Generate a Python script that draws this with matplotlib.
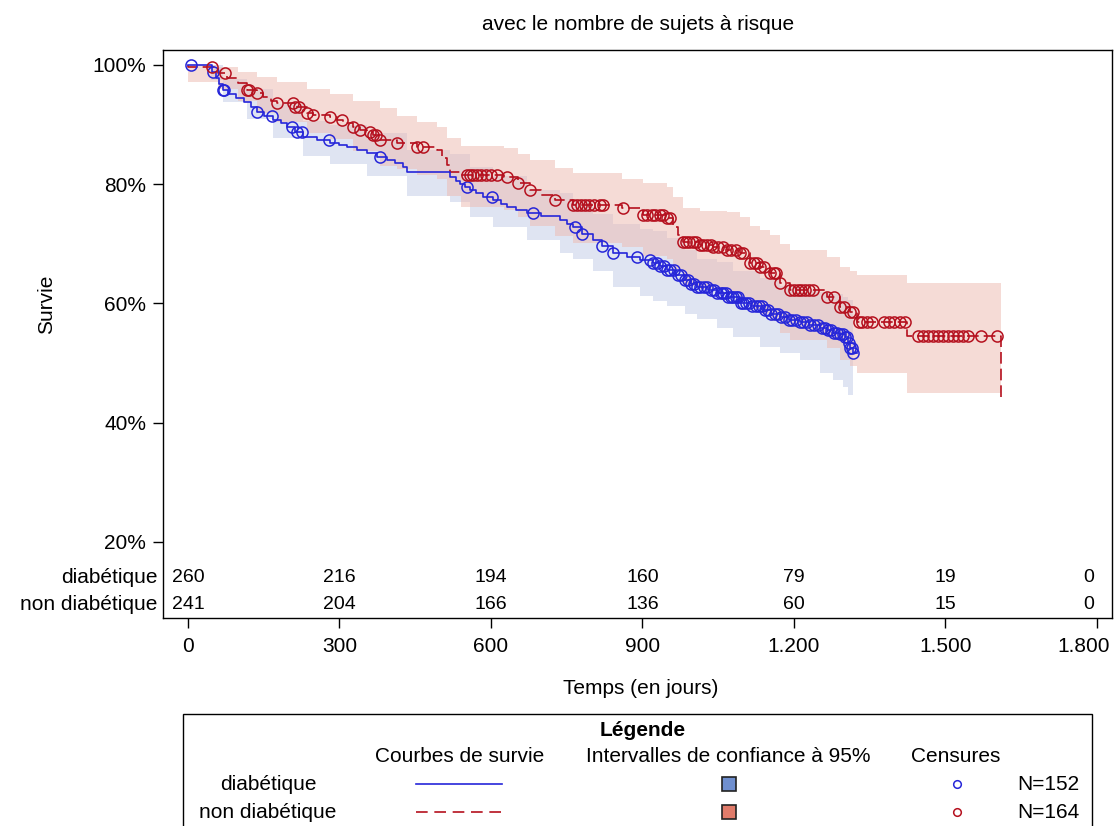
import numpy as np
import matplotlib
matplotlib.use('Agg')
import matplotlib.pyplot as plt
from matplotlib.patches import Rectangle
from matplotlib.lines import Line2D
from matplotlib.transforms import blended_transform_factory, ScaledTranslation

plt.rcParams['font.family'] = ['Liberation Sans', 'DejaVu Sans']

# ---- diabétique : survie (jours, %) ----
diab_t = [0, 48, 55, 62, 69, 80, 95, 110, 125, 137,
          150, 168, 185, 196, 212, 228, 255, 281, 300, 315,
          335, 354, 375, 394, 410, 426, 434, 519, 530, 539,
          548, 558, 570, 584, 604, 620, 632, 650, 671, 700,
          737, 750, 762, 780, 802, 820, 842, 870, 895, 921,
          935, 949, 965, 984, 996, 1008, 1030, 1048, 1070, 1093,
          1115, 1139, 1155, 1172, 1190, 1212, 1230, 1251, 1265, 1277,
          1290, 1301, 1307, 1312, 1318]
diab_s = [100, 98.8, 97.8, 96.8, 95.8, 95.2, 94.5, 93.8, 93.0, 92.1,
          91.5, 90.8, 90.2, 89.6, 88.8, 87.9, 87.4, 86.9, 86.5, 86.2,
          85.7, 85.2, 84.6, 84.1, 83.5, 82.9, 82.0, 81.2, 80.6, 80.0,
          79.5, 79.0, 78.5, 77.9, 77.4, 76.7, 76.2, 75.6, 75.2, 74.6,
          74.0, 73.3, 72.8, 71.7, 70.6, 69.6, 68.5, 67.8, 67.3, 66.8,
          66.2, 65.6, 64.8, 63.9, 63.3, 62.8, 62.3, 61.8, 61.0, 60.1,
          59.5, 58.9, 58.3, 57.7, 57.3, 56.9, 56.4, 55.9, 55.5, 55.1,
          54.8, 54.4, 53.4, 52.5, 51.7]
diab_end = 1325

# IC 95% diabétique
diab_band_t = [45, 69, 117, 168, 228, 281, 354, 434, 519, 558,
               604, 671, 737, 762, 802, 842, 895, 921, 949, 984,
               1008, 1048, 1079, 1133, 1172, 1212, 1251, 1277, 1297, 1307, 1318]
diab_band_lo = [97.5, 93.8, 91.0, 87.8, 84.8, 83.3, 81.4, 78.0, 77.0, 74.5,
                72.8, 70.6, 68.5, 67.4, 65.5, 62.8, 61.2, 60.4, 59.5, 58.3,
                57.4, 55.8, 54.4, 52.7, 51.7, 50.5, 48.3, 47.2, 46.0, 44.7, 44.7]
diab_band_hi = [100, 97.6, 96.0, 93.5, 90.6, 90.0, 88.6, 85.7, 85.0, 82.9,
                81.3, 79.1, 78.6, 77.4, 75.0, 73.3, 72.5, 72.2, 71.0, 68.9,
                67.4, 66.9, 65.5, 64.3, 62.9, 62.3, 62.0, 61.5, 61.0, 60.5, 60.5]

diab_cens = [5, 50, 69, 72, 137, 166, 206, 216, 226, 279,
             380, 552, 602, 683, 766, 780, 820, 842, 889, 915,
             921, 928, 935, 942, 949, 955, 962, 970, 977, 984,
             990, 996, 1002, 1008, 1015, 1022, 1028, 1035, 1042, 1048,
             1055, 1060, 1065, 1070, 1075, 1080, 1085, 1090, 1095, 1100,
             1106, 1112, 1118, 1124, 1130, 1136, 1142, 1148, 1155, 1162,
             1168, 1175, 1182, 1190, 1197, 1205, 1212, 1218, 1225, 1232,
             1240, 1248, 1256, 1262, 1268, 1274, 1280, 1286, 1292, 1298,
             1302, 1306, 1309, 1312, 1315, 1318]

# ---- non diabétique ----
nd_t = [0, 1, 59, 77, 99, 117, 137, 149, 165, 176,
        212, 236, 248, 281, 295, 307, 327, 341, 355, 366,
        380, 414, 453, 493, 503, 513, 519, 540, 625, 653,
        677, 700, 727, 762, 859, 901, 949, 960, 970, 980,
        1014, 1040, 1067, 1093, 1113, 1133, 1152, 1172, 1192, 1265,
        1291, 1311, 1325, 1424, 1610]
nd_s = [100, 99.6, 98.6, 97.8, 97.0, 95.8, 95.3, 94.6, 94.0, 93.6,
        93.0, 92.0, 91.6, 91.3, 90.8, 90.3, 89.6, 89.1, 88.7, 88.3,
        87.4, 86.9, 86.2, 85.7, 84.4, 83.2, 82.0, 81.5, 81.2, 80.2,
        79.0, 78.2, 77.4, 76.5, 76.0, 74.8, 74.3, 72.8, 71.5, 70.3,
        69.8, 69.4, 69.0, 68.5, 66.8, 66.1, 65.1, 63.4, 62.3, 61.1,
        59.4, 58.6, 56.9, 54.6, 43.8]

nd_band_t = [0, 59, 99, 137, 176, 236, 281, 327, 380, 414,
             453, 493, 513, 540, 625, 653, 677, 727, 762, 859,
             901, 949, 960, 980, 1014, 1067, 1093, 1113, 1133, 1152,
             1172, 1192, 1265, 1291, 1311, 1325, 1424, 1610]
nd_band_lo = [97.2, 96.0, 94.0, 92.0, 90.5, 88.5, 87.5, 85.5, 83.0, 82.5,
              81.5, 80.8, 78.0, 76.2, 75.7, 74.5, 73.0, 71.3, 70.2, 69.5,
              68.0, 67.5, 65.8, 63.0, 62.5, 61.5, 61.0, 59.0, 58.2, 57.0,
              55.0, 53.8, 52.5, 50.5, 49.5, 48.3, 45.0, 45.0]
nd_band_hi = [100, 99.6, 98.8, 98.0, 97.2, 96.0, 95.2, 94.0, 92.8, 91.5,
              90.5, 89.6, 87.8, 86.4, 86.1, 85.0, 84.1, 82.7, 81.9, 80.8,
              80.2, 79.5, 77.9, 76.0, 75.5, 75.3, 74.5, 73.0, 72.3, 71.5,
              70.0, 69.0, 67.8, 66.1, 65.5, 64.8, 63.4, 63.4]

nd_cens = [48, 73, 117, 121, 137, 176, 208, 212, 220, 236,
           248, 281, 305, 327, 341, 360, 366, 372, 380, 414,
           453, 465, 552, 558, 565, 572, 580, 590, 600, 612,
           632, 653, 677, 727, 762, 770, 778, 787, 795, 805,
           815, 822, 861, 901, 910, 918, 925, 935, 940, 949,
           955, 980, 986, 992, 1000, 1007, 1014, 1020, 1027, 1035,
           1040, 1050, 1060, 1067, 1075, 1085, 1093, 1100, 1113, 1120,
           1126, 1133, 1140, 1152, 1160, 1165, 1172, 1192, 1200, 1208,
           1215, 1222, 1230, 1238, 1265, 1280, 1291, 1300, 1311, 1318,
           1328, 1335, 1345, 1355, 1378, 1388, 1398, 1410, 1420, 1445,
           1455, 1465, 1475, 1485, 1495, 1505, 1515, 1525, 1535, 1545,
           1570, 1603]

risk_times = [0, 300, 600, 900, 1200, 1500, 1800]
risk_diab = [260, 216, 194, 160, 79, 19, 0]
risk_nd = [241, 204, 166, 136, 60, 15, 0]
xtick_labels = ['0', '300', '600', '900', '1.200', '1.500', '1.800']

blue = '#2626d9'
red = '#b5101e'
FS = 15


def step_value(times, surv, t):
    i = np.searchsorted(times, t, side='right') - 1
    return np.array(surv)[i]


W, H = 1120, 826
fig = plt.figure(figsize=(W / 100, H / 100), dpi=100)
ax = fig.add_axes([163 / W, 1 - 618 / H, (1112 - 163) / W, (618 - 50) / H])

# confidence bands
ax.fill_between(diab_band_t, diab_band_lo, diab_band_hi, step='post',
                facecolor='#dfe4f2', edgecolor='none', zorder=1)
ax.fill_between(nd_band_t, nd_band_lo, nd_band_hi, step='post',
                facecolor='#edb9af', alpha=0.5, edgecolor='none', zorder=2)

# survival curves
ax.step(diab_t + [diab_end], diab_s + [diab_s[-1]], where='post',
        color=blue, lw=1.2, zorder=4)
ax.step(nd_t, nd_s, where='post', color=red, lw=1.2,
        dashes=(7, 3), zorder=3)

# censored
ax.plot(diab_cens, step_value(diab_t, diab_s, diab_cens), 'o', ms=8,
        mfc='none', mec=blue, mew=1.1, zorder=5)
ax.plot(nd_cens, step_value(nd_t, nd_s, nd_cens), 'o', ms=8,
        mfc='none', mec=red, mew=1.1, zorder=5)

ax.set_xlim(-49.5, 1830)
ax.set_ylim(7.25, 102.5)
ax.set_xticks(risk_times)
ax.set_xticklabels(xtick_labels)
ax.set_yticks([20, 40, 60, 80, 100])
ax.set_yticklabels(['20%', '40%', '60%', '80%', '100%'])
ax.tick_params(axis='x', direction='out', length=7, width=1, pad=7, labelsize=FS)
ax.tick_params(axis='y', direction='out', length=7, width=1, pad=5, labelsize=FS)
# last tick label pulled left so it stays inside the picture
last_lab = ax.get_xticklabels()[-1]
last_lab.set_transform(last_lab.get_transform() + ScaledTranslation(-0.13, 0, fig.dpi_scale_trans))
for sp in ax.spines.values():
    sp.set_linewidth(1)
ax.set_xlabel('Temps (en jours)', fontsize=FS)
ax.xaxis.set_label_coords(0.503, -0.108)
ax.set_ylabel('Survie', fontsize=FS)
ax.yaxis.set_label_coords(-0.113, 0.553)
fig.text(638 / W, 1 - 24 / H, 'avec le nombre de sujets à risque',
         ha='center', va='center', fontsize=FS)

# risk table
tr = blended_transform_factory(ax.transData, ax.transAxes)
for i, t in enumerate(risk_times):
    last = i == len(risk_times) - 1
    ha = 'right' if last else 'center'
    x = t - 5 if last else t
    ax.text(x, 0.072, str(risk_diab[i]), transform=tr, ha=ha, va='center', fontsize=14)
    ax.text(x, 0.0246, str(risk_nd[i]), transform=tr, ha=ha, va='center', fontsize=14)
ax.text(-0.006, 0.072, 'diabétique', transform=ax.transAxes, ha='right', va='center', fontsize=FS)
ax.text(-0.006, 0.0246, 'non diabétique', transform=ax.transAxes, ha='right', va='center', fontsize=FS)


# legend (drawn by hand, figure pixel coordinates)
def fx(px):
    return px / W


def fy(py):
    return 1 - py / H


fig.patches.append(Rectangle((fx(183), fy(840)), fx(1092) - fx(183), fy(714) - fy(840),
                             transform=fig.transFigure, fill=False, edgecolor='black', lw=1))
fig.text(fx(643), fy(730), 'Légende', ha='center', va='center', fontsize=FS, fontweight='bold')
fig.text(fx(460), fy(757), 'Courbes de survie', ha='center', va='center', fontsize=FS)
fig.text(fx(728), fy(757), 'Intervalles de confiance à 95%', ha='center', va='center', fontsize=FS)
fig.text(fx(956), fy(757), 'Censures', ha='center', va='center', fontsize=FS)

rows = [('diabétique', blue, '-', '#6f8fcf', 'N=152', 784),
        ('non diabétique', red, '--', '#e07b6a', 'N=164', 812)]
for name, col, ls, fc, ntxt, py in rows:
    fig.text(fx(268), fy(py), name, ha='center', va='center', fontsize=FS)
    ln = Line2D([fx(416), fx(502)], [fy(py), fy(py)], transform=fig.transFigure,
                color=col, lw=1.2)
    if ls == '--':
        ln.set_dashes((7, 4))
    fig.lines.append(ln)
    fig.patches.append(Rectangle((fx(722), fy(py + 7)), fx(736) - fx(722), fy(py - 7) - fy(py + 7),
                                 transform=fig.transFigure, facecolor=fc, edgecolor='#222222', lw=1.2))
    fig.lines.append(Line2D([fx(957)], [fy(py)], transform=fig.transFigure, marker='o',
                            ms=5.5, mfc='none', mec=col, mew=1.1, linestyle='none'))
    fig.text(fx(1017), fy(py), ntxt, ha='left', va='center', fontsize=FS)

fig.savefig('out.png', dpi=100)
